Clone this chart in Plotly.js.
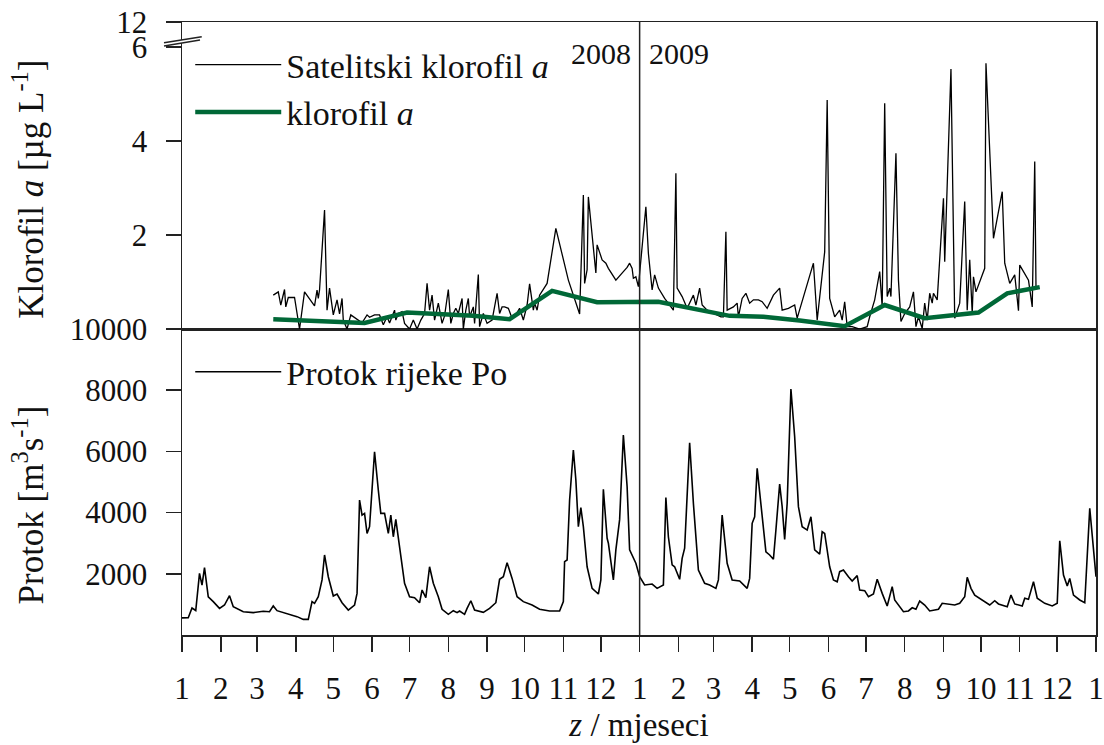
<!DOCTYPE html>
<html>
<head>
<meta charset="utf-8">
<script src="https://cdn.plot.ly/plotly-3.0.1.min.js"></script>
<style>html,body{margin:0;padding:0;background:#fff;}#chart{width:1104px;height:745px;}</style>
</head>
<body>
<div id="chart"></div>
<script>
// x values: days since 1 January 2008
const monthStarts = [0,31,60,91,121,152,182,213,244,274,305,335,366,397,425,456,486,517,547,578,609,639,670,700,731];
const monthLabels = ['1','2','3','4','5','6','7','8','9','10','11','12','1','2','3','4','5','6','7','8','9','10','11','12','1'];
const yearLabels = ['2008','2009'];

// River Po discharge [m3 s-1]
const flowDays = [0,5,8,11,14,16,18,21,25,30,34,38,41,49,57,65,70,73,76,84,92,97,101,104,106,109,112,114,117,121,124,128,133,138,140,142,144,146,148,150,154,157,159,162,165,167,169,171,174,178,182,186,190,192,195,198,201,205,208,213,217,220,222,226,228,231,234,238,241,246,251,254,257,260,264,268,273,280,286,294,302,305,306,308,310,313,315,317,319,321,324,328,333,335,337,340,341,345,347,350,353,356,358,363,366,370,376,380,384,385,387,389,392,394,398,400,402,406,409,413,418,422,427,429,432,436,440,446,452,454,456,458,460,464,467,470,473,475,478,480,482,484,487,490,493,496,500,503,506,510,512,514,518,521,524,526,529,533,536,540,542,546,549,553,556,560,564,568,570,577,581,584,587,590,594,598,605,608,613,618,622,626,628,631,634,640,646,650,653,660,663,666,672,674,677,681,684,690,696,700,702,705,708,710,713,718,722,726,731];
const flowValues = [560,565,880,800,2015,1630,2200,1250,1090,870,980,1285,925,760,730,775,760,950,795,710,600,510,510,1090,1035,1250,1800,2615,1905,1275,1340,1055,815,980,1360,4410,3920,3975,3320,3540,5990,4740,3975,3975,3320,3920,3210,3780,2885,1690,1250,1220,1055,1470,1220,2230,1690,1250,840,675,795,730,785,675,870,1120,815,785,740,870,1055,1820,1905,2365,1850,1250,1090,980,840,785,785,1090,2395,2450,4410,6045,5065,3540,4160,3540,2230,1525,1340,1800,4760,3160,3000,1800,2780,3770,6535,4845,2780,2345,1905,1635,1665,1525,1600,1635,4490,3210,2290,2230,1820,2505,2835,6285,4305,2125,1690,1635,1525,1800,3920,2345,1800,1765,1525,1850,3650,3865,5445,3760,2720,2615,2475,3430,4935,4195,3125,4305,8040,6480,4195,3540,3430,3865,2780,2645,3375,3320,2230,1800,1740,2070,2125,1905,1765,1940,1470,1450,1250,1340,1820,1360,950,1580,1145,760,785,890,840,1110,980,785,840,1035,1015,980,1035,1250,1885,1525,1305,1145,980,1120,1015,925,1305,1015,950,1200,1165,1740,1200,1035,950,1035,3080,1960,1600,1850,1305,1145,1055,4140,1905];

// Satellite chlorophyll a [ug L-1]
const satDays = [73,77,79,82,83,85,90,94,98,104,106,108,109,110,114,116,118,121,122,124,126,128,129,132,135,140,144,148,150,154,158,161,164,166,170,171,173,176,178,182,185,188,191,194,196,198,200,202,205,208,210,213,215,217,219,221,224,225,227,229,230,233,234,237,238,241,244,248,252,254,256,258,261,264,266,270,273,276,278,281,282,284,286,292,299,309,318,321,322,324,325,331,332,336,339,341,347,353,356,358,360,361,363,365,368,369,371,373,376,378,381,386,390,393,395,396,400,404,409,411,414,416,420,425,431,433,435,436,441,444,445,448,451,454,457,461,464,468,473,478,480,485,490,492,498,505,508,514,516,518,522,526,528,530,532,536,542,548,550,554,558,560,562,564,566,567,571,573,575,578,582,585,587,589,592,594,596,598,600,601,604,606,609,610,615,618,622,626,628,630,632,633,635,642,643,649,656,658,662,666,669,670,677,680,682,683];
const satValues = [0.72,0.79,0.51,0.84,0.47,0.67,0.67,0.0,0.79,0.58,0.49,0.83,0.65,0.83,2.53,0.40,0.87,0.30,0.40,0.62,0.32,0.65,0.19,0.0,0.30,0.21,0.13,0.30,0.25,0.30,0.30,0.09,0.26,0.13,0.40,0.19,0.33,0.37,0.12,0.0,0.19,0.0,0.19,0.33,0.97,0.40,0.72,0.19,0.55,0.12,0.28,0.84,0.12,0.33,0.44,0.33,0.65,0.0,0.40,0.65,0.26,0.47,0.12,1.16,0.05,0.33,0.12,0.19,0.76,0.33,0.47,0.47,0.44,0.23,0.26,0.44,0.19,0.51,0.96,0.40,0.55,0.40,0.72,0.97,2.14,1.04,0.32,2.85,0.97,1.26,2.81,1.19,1.79,1.47,1.40,1.29,1.04,1.22,1.31,1.40,1.29,1.08,1.11,0.90,1.72,2.0,2.60,1.61,0.83,1.15,0.87,0.65,0.51,0.40,3.31,0.87,0.69,0.44,0.72,0.51,0.87,0.51,0.40,0.33,0.26,0.26,2.07,0.40,0.47,0.55,0.26,0.65,0.76,0.55,0.62,0.62,0.58,0.44,0.72,0.87,0.40,0.44,0.51,0.23,0.79,1.40,0.19,1.64,4.87,0.65,0.26,0.40,0.19,0.58,0.05,0.05,0.0,0.05,0.26,0.62,1.22,0.47,4.80,0.69,0.87,0.69,3.74,1.04,0.16,0.33,0.47,0.79,0.05,0.26,0.01,0.55,0.19,0.76,0.55,0.76,0.62,1.54,2.78,1.43,5.53,0.23,0.55,2.71,0.40,1.47,0.33,1.11,0.79,1.29,5.65,1.93,2.92,1.40,0.97,1.15,0.39,1.36,1.04,0.47,3.56,0.90];

// In situ chlorophyll a [ug L-1]
const chlDays = [73,146,180,201,233,262,296,332,381,438,465,494,530,562,594,637,660,686];
const chlValues = [0.21,0.13,0.35,0.33,0.28,0.21,0.81,0.57,0.58,0.28,0.26,0.18,0.06,0.51,0.23,0.35,0.76,0.89];

const flowTicks = [2000,4000,6000,8000,10000];
const flowTickText = ['2000','4000','6000','8000','10000'];
const chlTickVals = [2,4,6,6.53];
const chlTickText = ['2','4','6','12'];

const FONT = 'Liberation Serif, DejaVu Serif, serif';
const GREEN = '#006837';

const traces = [
  {x: satDays, y: satValues, xaxis: 'x2', yaxis: 'y2', type: 'scatter', mode: 'lines',
   name: 'Satelitski klorofil <i>a</i>', line: {color: '#000', width: 1.3}, legend: 'legend'},
  {x: chlDays, y: chlValues, xaxis: 'x2', yaxis: 'y2', type: 'scatter', mode: 'lines',
   name: 'klorofil <i>a</i>', line: {color: GREEN, width: 4.5}, legend: 'legend'},
  {x: flowDays, y: flowValues, xaxis: 'x', yaxis: 'y', type: 'scatter', mode: 'lines',
   name: 'Protok rijeke Po', line: {color: '#000', width: 1.6}, legend: 'legend2'}
];

const axisCommon = {showgrid: false, zeroline: false, showline: true, linecolor: '#222', linewidth: 1.5, mirror: true,
  tickcolor: '#222', tickwidth: 1.5, tickfont: {family: FONT, size: 31, color: '#111'}};

const split = 306/613;
const yearX = monthStarts[12];

const layout = {
  width: 1104, height: 745,
  margin: {l: 182, r: 8, t: 22, b: 110},
  paper_bgcolor: '#fff', plot_bgcolor: '#fff',
  font: {family: FONT, color: '#111'},
  xaxis: Object.assign({}, axisCommon, {domain: [0,1], range: [monthStarts[0], monthStarts[monthStarts.length-1]], anchor: 'y',
    tickmode: 'array', tickvals: monthStarts, ticktext: monthLabels, ticks: 'outside', ticklen: 15, ticklabelstandoff: 10,
    title: {text: '<i>z</i> / mjeseci', font: {family: FONT, size: 33, color: '#111'}, standoff: 8}}),
  xaxis2: Object.assign({}, axisCommon, {matches: 'x', anchor: 'y2', showticklabels: false, ticks: ''}),
  yaxis: Object.assign({}, axisCommon, {domain: [0, split], range: [0, 10000], tickmode: 'array', tickvals: flowTicks, ticktext: flowTickText,
    ticks: 'outside', ticklen: 15, ticklabelstandoff: 12}),
  yaxis2: Object.assign({}, axisCommon, {domain: [split, 1], range: [0, 6.53], tickmode: 'array', tickvals: chlTickVals, ticktext: chlTickText,
    ticks: 'outside', ticklen: 15, ticklabelstandoff: 12}),
  showlegend: true,
  legend: {x: 0.009, y: 0.977, xanchor: 'left', yanchor: 'top', bgcolor: 'rgba(0,0,0,0)', itemwidth: 86,
    font: {family: FONT, size: 34, color: '#111'}, tracegroupgap: 0},
  legend2: {x: 0.009, y: 0.476, xanchor: 'left', yanchor: 'top', bgcolor: 'rgba(0,0,0,0)', itemwidth: 86,
    font: {family: FONT, size: 34, color: '#111'}},
  shapes: [
    {type: 'line', xref: 'x', yref: 'paper', x0: yearX, x1: yearX, y0: 0, y1: 1, line: {color: '#222', width: 1.5}},
    {type: 'path', xref: 'paper', yref: 'paper', path: 'M -0.0197 0.9662 L 0.0216 0.9760 L 0.0197 0.9706 L -0.0197 0.9608 Z',
      fillcolor: '#fff', line: {width: 0}, layer: 'above'},
    {type: 'line', xref: 'paper', yref: 'paper', x0: -0.0197, y0: 0.9662, x1: 0.0216, y1: 0.9760, line: {color: '#222', width: 1.5}},
    {type: 'line', xref: 'paper', yref: 'paper', x0: -0.0197, y0: 0.9608, x1: 0.0197, y1: 0.9706, line: {color: '#222', width: 1.5}}
  ],
  annotations: [
    {x: yearX, y: 0.949, xref: 'x', yref: 'paper', text: yearLabels[0], showarrow: false, xanchor: 'right', yanchor: 'middle', xshift: -7,
      font: {family: FONT, size: 30, color: '#111'}},
    {x: yearX, y: 0.949, xref: 'x', yref: 'paper', text: yearLabels[1], showarrow: false, xanchor: 'left', yanchor: 'middle', xshift: 7,
      font: {family: FONT, size: 30, color: '#111'}},
    {x: -0.168, y: 0.727, xref: 'paper', yref: 'paper', text: 'Klorofil <i>a</i> [µg L<sup>-1</sup>]', textangle: -90, showarrow: false,
      xanchor: 'center', yanchor: 'middle', font: {family: FONT, size: 35, color: '#111'}},
    {x: -0.168, y: 0.212, xref: 'paper', yref: 'paper', text: 'Protok [m<sup>3</sup>s<sup>-1</sup>]', textangle: -90, showarrow: false,
      xanchor: 'center', yanchor: 'middle', font: {family: FONT, size: 35, color: '#111'}}
  ]
};

Plotly.newPlot('chart', traces, layout, {staticPlot: true, displayModeBar: false});
</script>
</body>
</html>
